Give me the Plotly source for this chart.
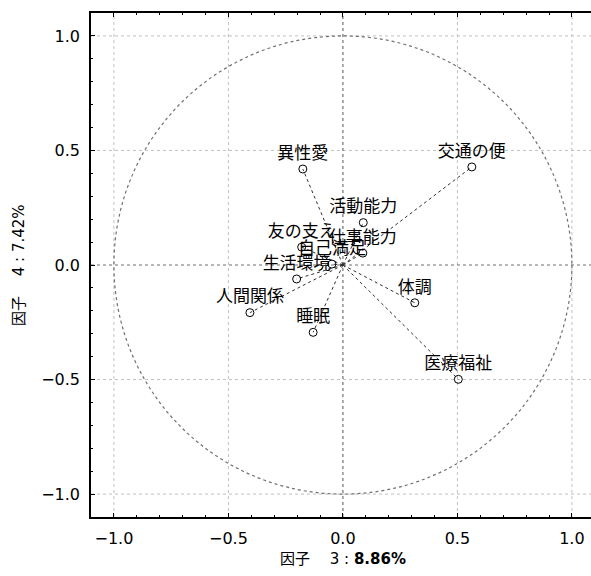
import plotly.graph_objects as go

# ---- data (factor loadings) ----
labels = ["交通の便", "異性愛", "活動能力", "友の支え", "仕事能力", "自己満足",
          "生活環境", "人間関係", "睡眠", "体調", "医療福祉"]
f3 = [0.563, -0.175, 0.089, -0.180, 0.087, -0.048, -0.202, -0.406, -0.130, 0.314, 0.504]
f4 = [0.428, 0.419, 0.185, 0.078, 0.052, 0.004, -0.061, -0.208, -0.294, -0.165, -0.499]
tick_vals = [-1.0, -0.5, 0.0, 0.5, 1.0]
tick_text = ["−1.0", "−0.5", "0.0", "0.5", "1.0"]
minor_vals = [-1.1, -0.9, -0.8, -0.7, -0.6, -0.4, -0.3, -0.2, -0.1,
              0.1, 0.2, 0.3, 0.4, 0.6, 0.7, 0.8, 0.9, 1.1]
x_title = "因子\u3000 3 : <b>8.86%</b>"
y_title = "因子\u3000 4 : 7.42%"

W, H = 591, 576
L, R, T, B = 91, 0, 13, 59
px_per_unit = 229.0
x_min = -1.1
x_max = x_min + (W - L - R) / px_per_unit

# lines from origin to each point
lx, ly = [], []
for a, b in zip(f3, f4):
    lx += [0, a, None]
    ly += [0, b, None]

fig = go.Figure()
fig.add_trace(go.Scatter(x=lx, y=ly, mode="lines",
                         line=dict(color="#303030", width=1, dash="3px,3px"),
                         hoverinfo="skip", showlegend=False))
fig.add_trace(go.Scatter(x=f3, y=f4, mode="markers+text", text=labels,
                         textposition="top center",
                         textfont=dict(family="Noto Sans CJK JP", size=17, color="black"),
                         marker=dict(symbol="circle-open", size=8, color="black",
                                     line=dict(width=1)),
                         showlegend=False))

dot_line = dict(color="#707070", width=1.2, dash="dot")
grid_line = dict(color="#c0c0c0", width=1, dash="dot")
shapes = []
for v in tick_vals:
    if v != 0:
        shapes.append(dict(type="line", xref="x", yref="paper", x0=v, x1=v, y0=0, y1=1,
                           line=grid_line, layer="below"))
        shapes.append(dict(type="line", xref="paper", yref="y", x0=0, x1=1, y0=v, y1=v,
                           line=grid_line, layer="below"))
shapes += [
    dict(type="circle", xref="x", yref="y", x0=-1, y0=-1, x1=1, y1=1,
         line=dot_line, layer="below"),
    dict(type="line", xref="paper", yref="y", x0=0, x1=1, y0=0, y1=0,
         line=dot_line, layer="below"),
    dict(type="line", xref="x", yref="paper", x0=0, x1=0, y0=0, y1=1,
         line=dot_line, layer="below"),
]

tickfont = dict(family="DejaVu Sans", size=16, color="black")
common_axis = dict(
    tickmode="array", tickvals=tick_vals, ticktext=tick_text,
    showline=True, linecolor="black", linewidth=1.5,
    ticks="inside", ticklen=4, tickcolor="black", tickwidth=1,
    minor=dict(tickmode="array", tickvals=minor_vals, ticks="inside",
               ticklen=2, tickcolor="black", showgrid=False),
    showgrid=False, zeroline=False, tickfont=tickfont, ticklabelstandoff=6,
)

fig.update_layout(
    width=W, height=H,
    margin=dict(l=L, r=R, t=T, b=B, pad=0),
    paper_bgcolor="white", plot_bgcolor="white",
    shapes=shapes,
    xaxis=dict(range=[x_min, x_max], mirror="allticks", **common_axis),
    yaxis=dict(range=[-1.1, 1.1], mirror=False, **common_axis),
    annotations=[
        dict(text=x_title, xref="x", yref="paper", x=0, y=0, yshift=-42,
             xanchor="center", yanchor="middle", showarrow=False,
             font=dict(family="DejaVu Sans, Noto Sans CJK JP", size=15, color="black")),
        dict(text=y_title, xref="paper", yref="paper", x=0, y=0.5, xshift=-72,
             xanchor="center", yanchor="middle", showarrow=False, textangle=-90,
             font=dict(family="DejaVu Sans, Noto Sans CJK JP", size=15, color="black")),
    ],
)

fig.write_html("out.html")
